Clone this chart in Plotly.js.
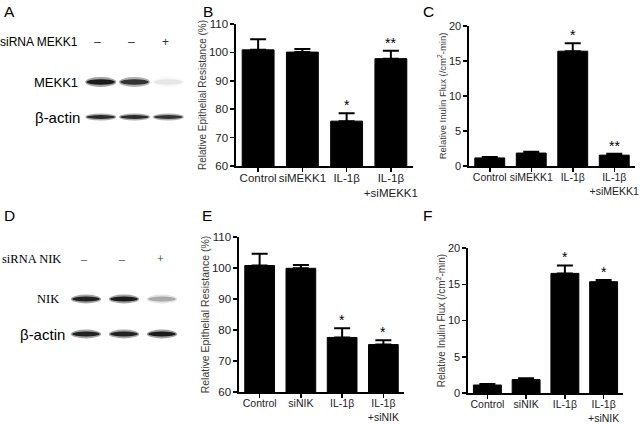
<!DOCTYPE html>
<html>
<head>
<meta charset="utf-8">
<script src="https://cdn.plot.ly/plotly-3.0.1.min.js"></script>
<style>html,body{margin:0;padding:0;background:#fff;}#chart{width:640px;height:424px;}</style>
</head>
<body>
<div id="chart"></div>
<script>
// ---- Data ----
const catsB = ['Control', 'siMEKK1', 'IL-1β', 'IL-1β<br>+siMEKK1'];
const resistB = [100.9, 100.1, 75.8, 97.8];
const resistBErr = [3.7, 1.1, 2.8, 2.8];
const starsB = ['', '', '*', '**'];

const catsC = ['Control', 'siMEKK1', 'IL-1β', 'IL-1β<br>+siMEKK1'];
const fluxC = [1.15, 1.85, 16.4, 1.55];
const fluxCErr = [0.15, 0.2, 1.15, 0.2];
const starsC = ['', '', '*', '**'];

const catsE = ['Control', 'siNIK', 'IL-1β', 'IL-1β<br>+siNIK'];
const resistE = [100.8, 99.9, 77.6, 75.3];
const resistEErr = [3.8, 1.1, 3.0, 1.4];
const starsE = ['', '', '*', '*'];

const catsF = ['Control', 'siNIK', 'IL-1β', 'IL-1β<br>+siNIK'];
const fluxF = [1.1, 1.85, 16.5, 15.35];
const fluxFErr = [0.15, 0.2, 1.1, 0.25];
const starsF = ['', '', '*', '*'];

// Western blot lanes and relative band intensities
const lanes = [1, 2, 3];
const sirnaSigns = ['–', '–', '+'];
const mekk1Band = [0.95, 0.8, 0.07];
const actinABand = [0.85, 0.85, 0.8];
const nikBand = [0.9, 0.95, 0.28];
const actinDBand = [0.9, 0.9, 0.95];

// ---- helpers ----
const W = 640, H = 424;
const px = (a, b) => [a / W, b / W];
const py = (top, bottom) => [1 - bottom / H, 1 - top / H];
const zeros = a => a.map(() => 0);

function barTrace(cats, vals, errs, xa, ya) {
  return {
    type: 'bar', x: cats, y: vals, xaxis: xa, yaxis: ya,
    marker: {color: '#000', line: {color: '#000', width: 1}},
    error_y: {type: 'data', symmetric: false, array: errs, arrayminus: zeros(errs),
              color: '#000', thickness: 2, width: 8},
    hoverinfo: 'skip', showlegend: false
  };
}
function catAxis(domain, anchor, fs) {
  return {domain: domain, anchor: anchor, type: 'category', range: [-0.5, 3.5],
    showline: true, linecolor: '#000', linewidth: 1.6, ticks: 'outside', ticklen: 4,
    tickwidth: 1.5, tickcolor: '#000', showgrid: false, zeroline: false, ticklabelstandoff: -3,
    tickfont: {family: 'Liberation Sans, Arial', size: fs, color: '#222'}, fixedrange: true};
}
function valAxis(domain, anchor, range, dtick, title, fs, tfs) {
  return {domain: domain, anchor: anchor, range: range, dtick: dtick, tick0: range[0],
    showline: true, linecolor: '#000', linewidth: 1.6, ticks: 'outside', ticklen: 4,
    tickwidth: 1.5, tickcolor: '#000', showgrid: false, zeroline: false,
    tickfont: {family: 'Liberation Sans, Arial', size: fs, color: '#222'},
    title: {text: title, font: {family: 'Liberation Sans, Arial', size: tfs, color: '#3a3a3a'}, standoff: 0},
    fixedrange: true};
}
function starAnns(cats, vals, errs, stars, xa, ya) {
  return cats.map((c, i) => ({
    xref: xa, yref: ya, x: c, y: vals[i] + errs[i], text: stars[i], showarrow: false,
    yanchor: 'bottom', yshift: -2, font: {family: 'Liberation Sans, Arial', size: 14, color: '#000'}
  })).filter(a => a.text);
}
function bandShapes(intens, row, half, thick, xa, ya) {
  const out = [];
  intens.forEach((v, i) => {
    const x = lanes[i];
    out.push({type: 'circle', xref: xa, yref: ya, x0: x - half - 0.04, x1: x + half + 0.04,
      y0: row - thick * 0.9, y1: row + thick * 0.9, line: {width: 0},
      fillcolor: 'rgba(40,40,40,' + (v * 0.45).toFixed(2) + ')', layer: 'above'});
    out.push({type: 'circle', xref: xa, yref: ya, x0: x - half, x1: x + half,
      y0: row - thick * 0.5, y1: row + thick * 0.5, line: {width: 0},
      fillcolor: 'rgba(20,20,20,' + v.toFixed(2) + ')', layer: 'above'});
  });
  return out;
}

const traces = [
  barTrace(catsB, resistB, resistBErr, 'x', 'y'),
  barTrace(catsC, fluxC, fluxCErr, 'x2', 'y2'),
  barTrace(catsE, resistE, resistEErr, 'x3', 'y3'),
  barTrace(catsF, fluxF, fluxFErr, 'x4', 'y4')
];

const rowSi = 3.14, rowTarget = 2, rowActin = 1;

let annotations = [];
annotations = annotations.concat(
  starAnns(catsB, resistB, resistBErr, starsB, 'x', 'y'),
  starAnns(catsC, fluxC, fluxCErr, starsC, 'x2', 'y2'),
  starAnns(catsE, resistE, resistEErr, starsE, 'x3', 'y3'),
  starAnns(catsF, fluxF, fluxFErr, starsF, 'x4', 'y4')
);
// panel letters
[['A', 2, 12], ['B', 201, 12], ['C', 421, 12], ['D', 2, 215], ['E', 200, 215], ['F', 421, 215]].forEach(l => {
  annotations.push({xref: 'paper', yref: 'paper', x: l[1] / W, y: 1 - l[2] / H, text: l[0],
    showarrow: false, xanchor: 'left', yanchor: 'middle',
    font: {family: 'Liberation Sans, Arial', size: 15.5, color: '#000'}});
});
// blot labels A
const sansB = 'Liberation Sans, Arial';
annotations.push({xref: 'x5', yref: 'y5', x: 0.38, y: rowSi, text: 'siRNA MEKK1', showarrow: false, xanchor: 'right', font: {family: sansB, size: 12, color: '#000'}});
annotations.push({xref: 'x5', yref: 'y5', x: 0.39, y: rowTarget, text: 'MEKK1', showarrow: false, xanchor: 'right', font: {family: sansB, size: 13, color: '#000'}});
annotations.push({xref: 'x5', yref: 'y5', x: 0.44, y: rowActin, text: 'β-actin', showarrow: false, xanchor: 'right', font: {family: sansB, size: 15, color: '#000'}});
lanes.forEach((l, i) => annotations.push({xref: 'x5', yref: 'y5', x: l, y: rowSi, xshift: -3, text: sirnaSigns[i], showarrow: false, font: {family: sansB, size: 12, color: '#333'}}));
// blot labels D
const serif = 'Liberation Serif, Times New Roman';
annotations.push({xref: 'x6', yref: 'y6', x: 0.4, y: rowSi, text: 'siRNA NIK', showarrow: false, xanchor: 'right', font: {family: serif, size: 12.5, color: '#000'}});
annotations.push({xref: 'x6', yref: 'y6', x: 0.35, y: rowTarget, text: 'NIK', showarrow: false, xanchor: 'right', font: {family: serif, size: 12.5, color: '#000'}});
annotations.push({xref: 'x6', yref: 'y6', x: 0.5, y: rowActin, text: 'β-actin', showarrow: false, xanchor: 'right', font: {family: sansB, size: 15, color: '#000'}});
lanes.forEach((l, i) => annotations.push({xref: 'x6', yref: 'y6', x: l, y: rowSi, xshift: -2, text: sirnaSigns[i], showarrow: false, font: {family: serif, size: 12, color: '#333'}}));

let shapes = [];
shapes = shapes.concat(
  bandShapes(mekk1Band, rowTarget, 0.42, 0.16, 'x5', 'y5'),
  bandShapes(actinABand, rowActin, 0.42, 0.11, 'x5', 'y5'),
  bandShapes(nikBand, rowTarget, 0.36, 0.14, 'x6', 'y6'),
  bandShapes(actinDBand, rowActin, 0.36, 0.14, 'x6', 'y6')
);

const hidden = (domain, anchor, range) => ({domain: domain, anchor: anchor, range: range,
  visible: false, showgrid: false, zeroline: false, fixedrange: true});

const layout = {
  width: W, height: H, margin: {l: 0, r: 0, t: 0, b: 0},
  paper_bgcolor: '#fff', plot_bgcolor: 'rgba(0,0,0,0)',
  bargap: 0.28, showlegend: false,
  font: {family: 'Liberation Sans, Arial', color: '#222'},
  xaxis: catAxis(px(236, 413), 'y', 11.5),
  yaxis: valAxis(py(24, 166), 'x', [60, 110], 10, 'Relative Epithelial Resistance (%)', 11.5, 10),
  xaxis2: catAxis(px(469, 635), 'y2', 10.5),
  yaxis2: valAxis(py(26, 166), 'x2', [0, 20], 5, 'Relative Inulin Flux (/cm<sup>2</sup>-min)', 11, 9.5),
  xaxis3: catAxis(px(239, 404), 'y3', 10.5),
  yaxis3: valAxis(py(237, 392), 'x3', [60, 110], 10, 'Relative Epithelial Resistance (%)', 11.5, 10.5),
  xaxis4: catAxis(px(468, 623), 'y4', 10.5),
  yaxis4: valAxis(py(248, 393), 'x4', [0, 20], 5, 'Relative Inulin Flux (/cm<sup>2</sup>-min)', 11, 10),
  xaxis5: hidden(px(67, 202), 'y5', [0, 4]),
  yaxis5: hidden(py(12, 152), 'x5', [0, 4]),
  xaxis6: hidden(px(48, 200), 'y6', [0, 4]),
  yaxis6: hidden(py(229, 369), 'x6', [0, 4]),
  annotations: annotations,
  shapes: shapes
};

Plotly.newPlot('chart', traces, layout, {staticPlot: true, displayModeBar: false});
</script>
</body>
</html>
